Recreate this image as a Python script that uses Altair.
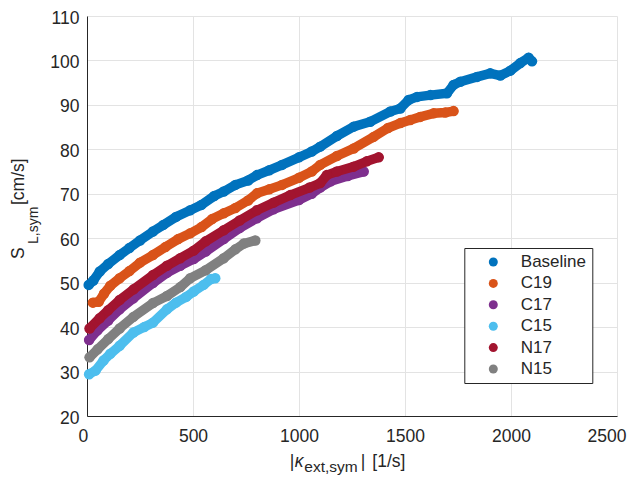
import altair as alt
import pandas as pd

FONT = "Liberation Sans"
TXT = "#262626"

series_names = ["Baseline", "C19", "C17", "C15", "N17", "N15"]
series_colors = ["#0072BD", "#D95319", "#7E2F8E", "#4DBEEE", "#A2142F", "#808080"]

baseline_x = [8, 30, 60, 100, 154, 200, 250, 311, 360, 420, 487, 540, 600, 645, 700, 760, 802, 860,
              920, 1000, 1060, 1100, 1179, 1258, 1336, 1431, 1478, 1517, 1557, 1620, 1698, 1729,
              1761, 1840, 1902, 1950, 1997, 2044, 2083, 2099]
baseline_y = [49.5, 50.5, 52.5, 54.2, 56.2, 57.8, 59.5, 61.5, 63.0, 64.8, 66.3, 67.5, 69.5, 70.5,
              72.0, 73.0, 74.2, 75.3, 76.5, 78.2, 79.5, 80.6, 83.0, 85.1, 86.2, 88.5, 89.2, 91.1,
              91.8, 92.2, 92.6, 94.5, 95.2, 96.3, 97.1, 96.6, 97.7, 99.4, 100.6, 99.8]

c19_x = [28, 55, 80, 110, 154, 200, 250, 311, 370, 430, 487, 540, 590, 645, 700, 760, 802, 860,
         920, 1000, 1060, 1100, 1179, 1258, 1352, 1420, 1478, 1525, 1572, 1635, 1690, 1729]
c19_y = [45.5, 45.7, 47.5, 49.3, 51.0, 52.6, 54.5, 56.2, 58.0, 59.8, 61.1, 62.5, 64.3, 65.6, 66.8,
         68.5, 70.1, 71.0, 72.0, 73.6, 75.0, 76.5, 78.5, 80.2, 82.8, 84.8, 85.9, 86.6, 87.3, 88.1,
         88.3, 88.6]

c17_x = [10, 50, 100, 154, 219, 311, 377, 440, 503, 560, 645, 720, 802, 880, 1000, 1060, 1100,
         1150, 1230, 1305]
c17_y = [37.1, 39.3, 41.5, 44.0, 46.5, 49.9, 52.2, 53.8, 55.3, 57.0, 59.8, 62.3, 64.5, 66.5, 68.6,
         70.0, 71.4, 72.8, 74.0, 75.0]

c15_x = [10, 40, 78, 110, 154, 219, 270, 311, 377, 420, 468, 503, 550, 585, 605]
c15_y = [29.4, 30.2, 32.5, 34.0, 35.8, 38.8, 40.0, 41.0, 44.0, 45.5, 46.8, 48.0, 49.5, 50.8, 51.0]

n17_x = [12, 60, 100, 154, 220, 311, 377, 440, 503, 560, 645, 720, 802, 880, 959, 1050, 1100,
         1131, 1179, 1258, 1320, 1376]
n17_y = [39.7, 42.0, 43.8, 46.1, 48.5, 51.7, 53.8, 55.5, 57.2, 59.3, 61.8, 64.0, 66.3, 68.0, 69.7,
         71.4, 72.4, 74.2, 75.0, 76.1, 77.3, 78.2]

n15_x = [12, 50, 100, 154, 219, 311, 377, 440, 487, 560, 645, 700, 740, 794]
n15_y = [33.2, 35.0, 37.3, 39.7, 42.3, 45.4, 47.0, 49.0, 51.0, 52.8, 55.5, 57.5, 58.8, 59.5]

x_ticks = [0, 500, 1000, 1500, 2000, 2500]
y_ticks = [20, 30, 40, 50, 60, 70, 80, 90, 100, 110]

all_series = [
    ("Baseline", baseline_x, baseline_y),
    ("C19", c19_x, c19_y),
    ("C17", c17_x, c17_y),
    ("C15", c15_x, c15_y),
    ("N17", n17_x, n17_y),
    ("N15", n15_x, n15_y),
]

xscale = alt.Scale(domain=[0, 2500], nice=False, zero=False)
yscale = alt.Scale(domain=[20, 110], nice=False, zero=False)
cscale = alt.Scale(domain=series_names, range=series_colors)

xaxis = alt.Axis(values=x_ticks, title=None, grid=True, ticks=False, tickSize=0, format="d",
                 labelPadding=11, labelFontSize=17.5, labelFont=FONT, labelColor=TXT,
                 domainColor=TXT, gridColor="#e3e3e3", labelFlush=True, labelFlushOffset=9)
yaxis = alt.Axis(values=y_ticks, title=None, grid=True, ticks=False, tickSize=0, format="d",
                 labelPadding=8, labelFontSize=17.5, labelFont=FONT, labelColor=TXT,
                 labelOffset=2,
                 domainColor=TXT, gridColor="#e3e3e3", labelFlush=False)

legend = alt.Legend(orient="none", legendX=377.3, legendY=232, title=None,
                    symbolType="circle", symbolSize=81, symbolOpacity=1, symbolStrokeWidth=0,
                    labelFontSize=17, labelFont=FONT, labelColor=TXT,
                    fillColor="white", strokeColor=TXT, padding=5.5, rowPadding=3.4,
                    symbolOffset=15, labelOffset=19, cornerRadius=0)

layers = []
first = True
for name, xs, ys in all_series:
    d = pd.DataFrame({"series": name, "k": xs, "s": ys, "order": list(range(len(xs)))})
    base = alt.Chart(d)
    enc_x = alt.X("k:Q", scale=xscale, axis=xaxis)
    enc_y = alt.Y("s:Q", scale=yscale, axis=yaxis)
    line = base.mark_line(strokeWidth=9.5, strokeCap="round", strokeJoin="round").encode(
        x=enc_x, y=enc_y, order="order:Q",
        color=alt.Color("series:N", scale=cscale, legend=None),
    )
    pts = base.mark_circle(size=110, opacity=1).encode(
        x=enc_x, y=enc_y,
        color=alt.Color("series:N", scale=cscale, legend=legend if first else None),
    )
    first = False
    layers += [line, pts]

# axis titles built from pieces (subscripts)
def txt(t, x, y, size=17.5, angle=0, italic=False):
    kw = dict(text=t, font=FONT, fontSize=size, color=TXT, align="left", baseline="alphabetic")
    if angle:
        kw["angle"] = angle
    if italic:
        kw["fontStyle"] = "italic"
    return alt.Chart(pd.DataFrame({"a": [0]})).mark_text(**kw).encode(
        x=alt.value(x), y=alt.value(y))

layers += [
    txt("|", 202.8, 451),
    txt("κ", 207.8, 451, italic=True),
    txt("ext,sym", 217.3, 456, size=15.5),
    txt("|", 273.8, 451),
    txt("[1/s]", 285.3, 451),
    txt("S", -62.7, 243, angle=270),
    txt("L,sym", -49.2, 228, size=14, angle=270),
    txt("[cm/s]", -62.7, 189, angle=270),
]

chart = alt.layer(*layers).resolve_legend(color="independent").properties(
    width=530, height=400,
    autosize=alt.AutoSizeParams(type="none"),
    padding={"left": 79, "top": 8, "right": 10, "bottom": 59},
    background="white",
).configure_view(stroke=None)

chart.save("out.html", embed_options={"renderer": "svg", "actions": False})
